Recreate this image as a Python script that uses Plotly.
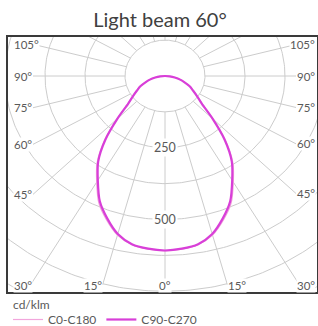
import numpy as np
import plotly.graph_objects as go

# ---------------- data ----------------
gamma_deg = [0, 5, 10, 15, 20, 25, 30, 35, 40, 45, 50, 55, 60, 65, 70, 75, 80, 85, 90]
c0_c180 = [609, 606, 597, 574, 534, 489, 427, 370, 295, 214, 152, 123, 102, 86, 66, 50, 32, 15, 0]
c90_c270 = [608, 604, 595, 570, 528, 482, 420, 364, 290, 210, 150, 122, 101, 85, 65, 49, 31, 15, 0]
ring_values = [125, 250, 375, 500, 625, 750, 875, 1000]
ring_label_values = [250, 500]
spoke_angles = [0, 15, 30, 45, 60, 75, 90, 105, 120, 135, 150, 165, 180]
side_label_angles = [45, 60, 75, 90, 105]
bottom_label_angles = [0, 15, 30]
unit_label = "cd/klm"
title_text = "Light beam 60°"

# ---------------- geometry / style ----------------
W, H = 318, 326
CX, CY = 165.0, 76.0      # pixel position of the polar centre
SX, SY = 0.32, 0.287      # pixels per cd/klm (horizontal, vertical)
PL, PR, PT, PB = 8, 317, 37, 292   # frame in pixels

def ux(px):
    return (px - CX) / SX

def uy(py):
    return -(py - CY) / SY

def paper_y(py):
    return (PB - py) / (PB - PT)

def paper_x(px):
    return (px - PL) / (PR - PL)

GRID = "#cccccc"
TXT = "#595959"
FONT = "Lato"

def polar_xy(g_deg, r):
    g = np.radians(np.asarray(g_deg, dtype=float))
    r = np.asarray(r, dtype=float)
    return r * np.sin(g), -r * np.cos(g)

fig = go.Figure()

# rings
rx, ry = [], []
t = np.linspace(0, 360, 361)
for rv in ring_values:
    x, y = polar_xy(t, np.full_like(t, rv))
    rx += list(x) + [None]
    ry += list(y) + [None]
fig.add_trace(go.Scatter(x=rx, y=ry, mode="lines", line=dict(color=GRID, width=1),
                         hoverinfo="skip", showlegend=False))

# spokes + angle labels
annotations = []
sx_list, sy_list = [], []
r0 = ring_values[0]
y_lab = uy(285)
for a in spoke_angles:
    sides = [1] if a in (0, 180) else [-1, 1]
    for s in sides:
        ar = np.radians(a)
        lab = None
        if a in side_label_angles:
            xe = abs(ux(33)) if s < 0 else abs(ux(296))
            r_end = xe / np.sin(ar)
            ye = -r_end * np.cos(ar)
            if s < 0:
                lab = dict(x=ux(13), y=ye, xanchor="left")
            else:
                lab = dict(x=ux(316), y=ye, xanchor="right")
        elif a in bottom_label_angles:
            r_end = abs(y_lab) / np.cos(ar)
            if a == 0:
                lab = dict(x=0, y=y_lab, xanchor="center")
            elif a == 15:
                lab = dict(x=s * r_end * np.sin(ar), y=y_lab,
                           xanchor="right" if s < 0 else "left")
            else:
                lab = dict(x=ux(13) if s < 0 else ux(316), y=y_lab,
                           xanchor="left" if s < 0 else "right")
        else:
            r_end = 2000
        x0, y0 = polar_xy(s * a, r0)
        x1, y1 = polar_xy(s * a, r_end)
        sx_list += [float(x0), float(x1), None]
        sy_list += [float(y0), float(y1), None]
        if lab is not None:
            annotations.append(dict(text=f"{a}°", xref="x", yref="y", showarrow=False,
                                    yanchor="middle", bgcolor="white", borderpad=0,
                                    font=dict(family=FONT, size=11.5, color=TXT), **lab))
fig.add_trace(go.Scatter(x=sx_list, y=sy_list, mode="lines", line=dict(color=GRID, width=1),
                         hoverinfo="skip", showlegend=False))

# ring labels
for rv in ring_label_values:
    annotations.append(dict(text=str(rv), x=0, y=-rv, xref="x", yref="y", showarrow=False,
                            bgcolor="white", borderpad=1,
                            font=dict(family=FONT, size=12.5, color=TXT)))

# unit label above the legend
annotations.append(dict(text=unit_label, xref="paper", yref="paper",
                        x=paper_x(11), y=paper_y(304), xanchor="left", yanchor="middle",
                        showarrow=False, font=dict(family=FONT, size=12, color=TXT)))

# intensity curves (mirrored C-planes)
def full_curve(values):
    g = [-v for v in gamma_deg[::-1]] + gamma_deg[1:]
    r = values[::-1] + values[1:]
    return polar_xy(g, r)

x90, y90 = full_curve(c90_c270)
x0c, y0c = full_curve(c0_c180)
fig.add_trace(go.Scatter(x=x0c, y=y0c, mode="lines", name="C0-C180",
                         line=dict(color="#f2a6dc", width=1.2, shape="spline", smoothing=0.8),
                         legendrank=1))
fig.add_trace(go.Scatter(x=x90, y=y90, mode="lines", name="C90-C270",
                         line=dict(color="#d83fd8", width=2.2, shape="spline", smoothing=0.8),
                         legendrank=2))

fig.update_layout(
    width=W, height=H,
    margin=dict(l=PL, r=W - PR, t=PT, b=H - PB, autoexpand=False),
    paper_bgcolor="white", plot_bgcolor="white",
    title=dict(text=title_text, x=160 / W, xref="container", xanchor="center",
               y=1 - 20 / H, yref="container", yanchor="middle",
               font=dict(family=FONT, size=20, color="#404040")),
    xaxis=dict(range=[ux(PL), ux(PR)], showgrid=False, zeroline=False, showticklabels=False,
               ticks="", showline=True, mirror=True, linecolor="#3a3a3a", linewidth=2,
               fixedrange=True),
    yaxis=dict(range=[uy(PB), uy(PT)], showgrid=False, zeroline=False, showticklabels=False,
               ticks="", showline=True, mirror=True, linecolor="#3a3a3a", linewidth=2,
               fixedrange=True),
    showlegend=True,
    legend=dict(orientation="h", x=0, xanchor="left", y=paper_y(305), yanchor="top",
                font=dict(family=FONT, size=12, color=TXT),
                bgcolor="rgba(0,0,0,0)", tracegroupgap=0, itemwidth=30),
    annotations=annotations,
)

fig.write_html("out.html", config={"displayModeBar": False},
               post_script="document.body.style.margin='0';document.body.style.overflow='hidden';")
